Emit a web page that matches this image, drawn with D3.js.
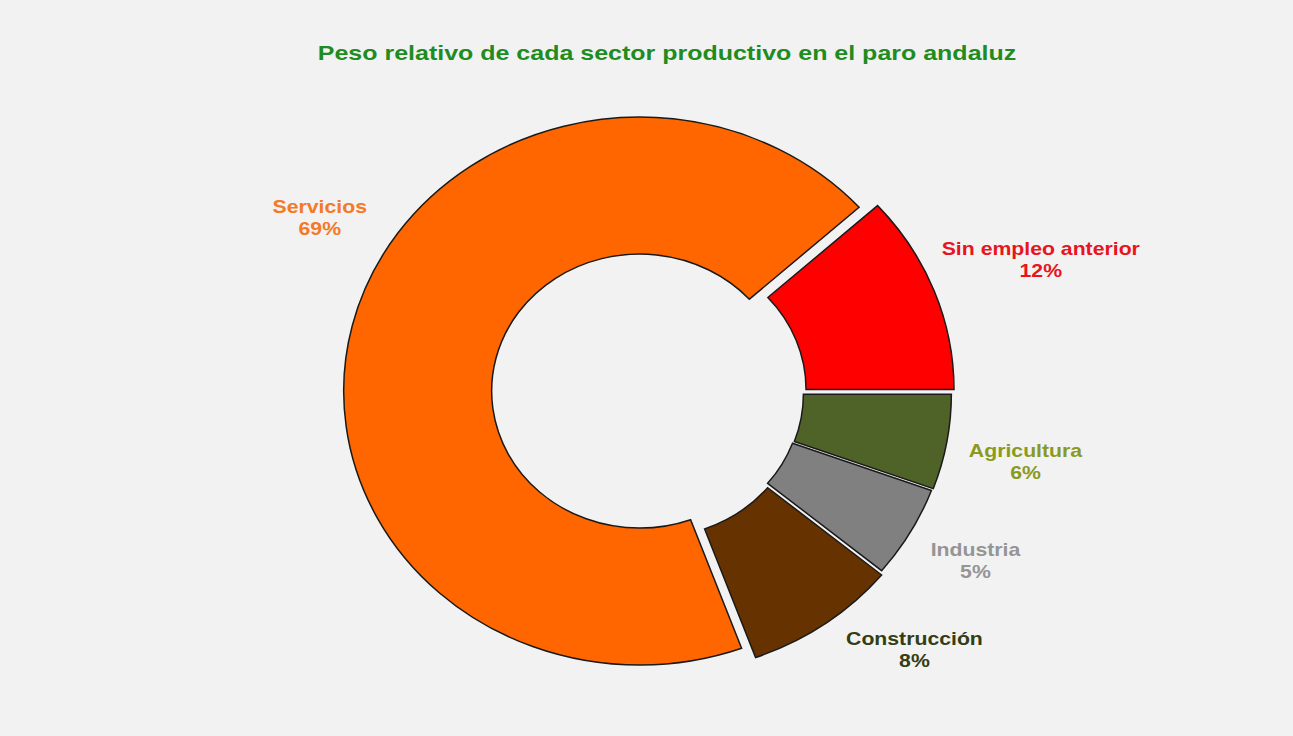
<!DOCTYPE html>
<meta charset="utf-8">
<style>
    body { margin: 0; background: #f2f2f2; }
    text { font-family: "Liberation Sans", Arial, sans-serif; font-weight: bold; }
</style>
<body>
<script src="https://d3js.org/d3.v7.min.js"></script>
<script>

    // data, clockwise from 3 o'clock
    var sectors = ["Agricultura", "Industria", "Construcción", "Servicios", "Sin empleo anterior"];
    var shares = [5.6, 5.4, 8.4, 68.9, 11.7];
    var chartTitle = "Peso relativo de cada sector productivo en el paro andaluz";

    // styles
    var sliceColor = {
        "Agricultura": "#4f6228",
        "Industria": "#808080",
        "Construcción": "#663300",
        "Servicios": "#ff6600",
        "Sin empleo anterior": "#ff0000"
    };
    var labelColor = {
        "Agricultura": "#8a9a1e",
        "Industria": "#959595",
        "Construcción": "#343d14",
        "Servicios": "#f47a26",
        "Sin empleo anterior": "#e8141e"
    };
    // explode distance of each slice
    var explode = { "Agricultura": 7, "Industria": 6, "Construcción": 9, "Servicios": 8, "Sin empleo anterior": 10 };
    // nudges for labels (best-fit placement)
    var nudge = {
        "Agricultura": [0, 6],
        "Industria": [-5, -9],
        "Construcción": [45, -33],
        "Servicios": [44, -90],
        "Sin empleo anterior": [35, -6]
    };

    var width = 1293, height = 736;
    var cx = 648, cy = 393, sx = 1.08;   // picture is stretched horizontally
    var outerR = 274, innerR = 137, labelR = 355;
    var textSX = 1.18;

    var data = sectors.map(function (s, i) { return { name: s, value: shares[i] }; });
    var total = d3.sum(shares);
    var fmt = d3.format(".0%");

    var svg = d3.select("body").append("svg")
        .attr("width", width)
        .attr("height", height);

    svg.append("rect").attr("width", width).attr("height", height).attr("fill", "#f2f2f2");

    var pie = d3.pie()
        .sort(null)
        .value(function (d) { return d.value; })
        .startAngle(Math.PI / 2)
        .endAngle(Math.PI / 2 + 2 * Math.PI);

    var arc = d3.arc().innerRadius(innerR).outerRadius(outerR);

    var arcs = pie(data);

    var g = svg.append("g")
        .attr("transform", "translate(" + cx + "," + cy + ") scale(" + sx + ",1)");

    g.selectAll("path")
        .data(arcs)
        .enter().append("path")
        .attr("d", arc)
        .attr("transform", function (d) {
            var m = (d.startAngle + d.endAngle) / 2, e = explode[d.data.name];
            return "translate(" + (Math.sin(m) * e) + "," + (-Math.cos(m) * e) + ")";
        })
        .attr("fill", function (d) { return sliceColor[d.data.name]; })
        .attr("stroke", "#1a1a1a")
        .attr("stroke-width", 1.5)
        .attr("vector-effect", "non-scaling-stroke");

    // labels
    var lab = svg.selectAll(".lab")
        .data(arcs)
        .enter().append("g")
        .attr("class", "lab")
        .attr("transform", function (d) {
            var m = (d.startAngle + d.endAngle) / 2, n = nudge[d.data.name];
            var x = cx + sx * labelR * Math.sin(m) + n[0];
            var y = cy - labelR * Math.cos(m) + n[1];
            return "translate(" + x + "," + y + ") scale(" + textSX + ",1)";
        })
        .attr("fill", function (d) { return labelColor[d.data.name]; })
        .style("font-size", "18px")
        .attr("text-anchor", "middle");

    lab.append("text")
        .attr("y", -4.5)
        .text(function (d) { return d.data.name; });

    lab.append("text")
        .attr("y", 17.5)
        .text(function (d) { return fmt(d.data.value / total); });

    // title
    svg.append("text")
        .attr("transform", "translate(667,60) scale(1.19,1)")
        .attr("text-anchor", "middle")
        .attr("fill", "#1e8c1e")
        .style("font-size", "21px")
        .text(chartTitle);

</script>
</body>
